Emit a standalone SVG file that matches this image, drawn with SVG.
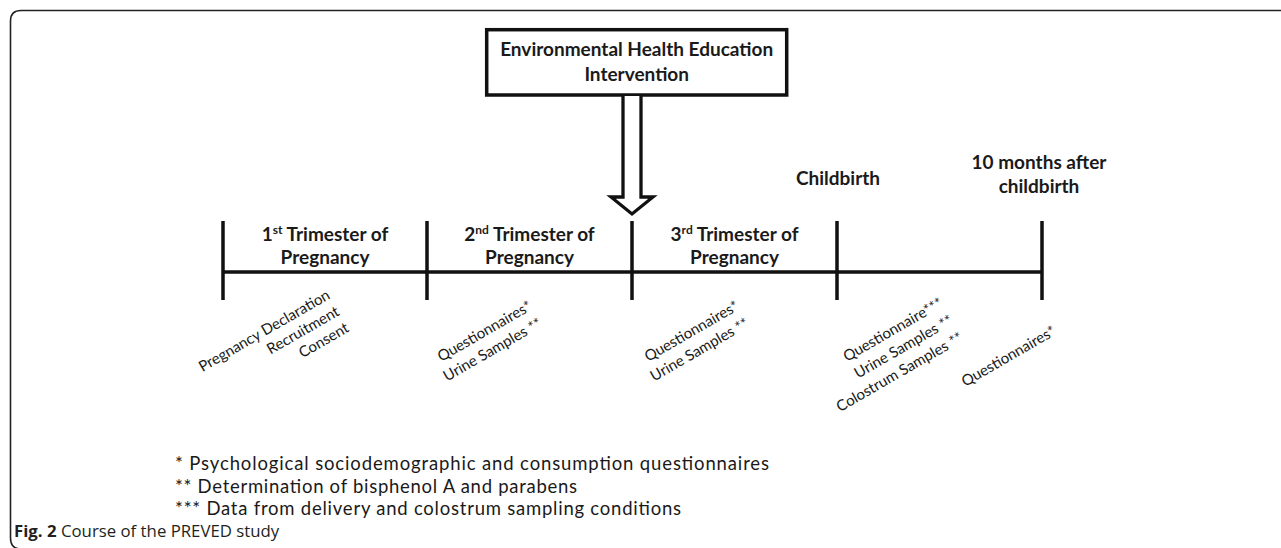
<svg xmlns="http://www.w3.org/2000/svg" width="1281" height="548" viewBox="0 0 1281 548">
<style>
.frame{fill:none;stroke:#222;stroke-width:1.6}
.bold{font-family:Lato,"Liberation Sans",sans-serif;font-weight:700;font-size:19px;fill:#1a1a1a;text-anchor:middle}
.rot{font-family:Lato,"Liberation Sans",sans-serif;font-size:15px;fill:#1a1a1a;text-anchor:end}
.fn{font-family:Lato,"Liberation Sans",sans-serif;font-size:18.5px;fill:#1a1a1a}
.cap{font-family:"Open Sans","Liberation Sans",sans-serif;font-size:16.8px;fill:#231f20}
.line{stroke:#111;stroke-width:3.5;fill:none}
.sup{font-size:12px}
</style>
<rect width="1281" height="548" fill="#fff"/>
<path class="frame" d="M1290,10.5 H21 Q10.5,10.5 10.5,21 V538 Q10.5,549 21,549"/>

<g id="intervention">
<rect x="486.7" y="29.7" width="300" height="65.3" fill="#fff" stroke="#111" stroke-width="3.5"/>
<text class="bold" x="636.7" y="56">Environmental Health Education</text>
<text class="bold" x="636.7" y="81">Intervention</text>
</g>

<g id="connectors">
<path d="M623,96 V197 H611 L632,214 L653,197 H641 V96" fill="#fff" stroke="#111" stroke-width="3.3" stroke-linejoin="miter"/>
<line class="line" x1="223" y1="272" x2="1042" y2="272"/>
<line class="line" x1="223" y1="221" x2="223" y2="300"/>
<line class="line" x1="427" y1="221" x2="427" y2="300"/>
<line class="line" x1="632" y1="221" x2="632" y2="300"/>
<line class="line" x1="837" y1="221" x2="837" y2="300"/>
<line class="line" x1="1042" y1="221" x2="1042" y2="300"/>
</g>

<g id="trimester1">
<text class="bold" x="325" y="241">1<tspan class="sup" dy="-7">st</tspan><tspan dy="7"> Trimester of</tspan></text>
<text class="bold" x="325" y="264">Pregnancy</text>
<g transform="translate(331,298) rotate(-30)">
<text class="rot" x="0" y="0">Pregnancy Declaration</text>
<text class="rot" x="0" y="19">Recruitment</text>
<text class="rot" x="0" y="38">Consent</text>
</g>
</g>

<g id="trimester2">
<text class="bold" x="529.5" y="241">2<tspan class="sup" dy="-7">nd</tspan><tspan dy="7"> Trimester of</tspan></text>
<text class="bold" x="529.5" y="264">Pregnancy</text>
<g transform="translate(533,309) rotate(-30)">
<text class="rot" x="0" y="0">Questionnaires*</text>
<text class="rot" x="0" y="20">Urine Samples **</text>
</g>
</g>

<g id="trimester3">
<text class="bold" x="734.5" y="241">3<tspan class="sup" dy="-7">rd</tspan><tspan dy="7"> Trimester of</tspan></text>
<text class="bold" x="734.5" y="264">Pregnancy</text>
<g transform="translate(740,309) rotate(-30)">
<text class="rot" x="0" y="0">Questionnaires*</text>
<text class="rot" x="0" y="20">Urine Samples **</text>
</g>
</g>

<g id="childbirth">
<text class="bold" x="838" y="185">Childbirth</text>
<g transform="translate(944,306) rotate(-30)">
<text class="rot" x="0" y="0">Questionnaire***</text>
<text class="rot" x="0" y="20">Urine Samples **</text>
<text class="rot" x="0" y="40">Colostrum Samples **</text>
</g>
</g>

<g id="after10months">
<text class="bold" x="1039" y="169">10 months after</text>
<text class="bold" x="1039" y="193">childbirth</text>
<g transform="translate(1057,334) rotate(-30)">
<text class="rot" x="0" y="0">Questionnaires*</text>
</g>
</g>

<g id="footnotes">
<text class="fn" x="175" y="470" textLength="594">* Psychological sociodemographic and consumption questionnaires</text>
<text class="fn" x="175" y="492.5" textLength="402">** Determination of bisphenol A and parabens</text>
<text class="fn" x="175" y="515" textLength="506">*** Data from delivery and colostrum sampling conditions</text>
</g>

<g id="caption">
<text class="cap" x="14" y="537"><tspan font-weight="700">Fig. 2</tspan> Course of the PREVED study</text>
</g>
</svg>
